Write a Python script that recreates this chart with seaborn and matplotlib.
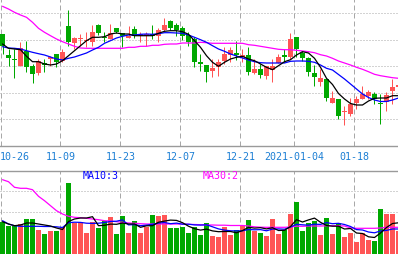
import numpy as np
import matplotlib
matplotlib.use("Agg")
import matplotlib.pyplot as plt
import seaborn as sns

# ---------------- data ----------------
tick_idx = [0, 10, 20, 30, 40, 49, 59]
tick_labels = ["10-26", "11-09", "11-23", "12-07", "12-21", "2021-01-04", "01-18"]

open_ = [11.5, 9.4, 9.0, 8.33, 9.83, 8.33, 7.6, 8.6, 9.05, 9.5,
         8.83, 12.33, 10.63, 11.03, 10.83, 10.73, 12.4, 11.17, 11.0, 12.1,
         11.6, 11.07, 12.0, 11.33, 11.33, 11.5, 11.33, 11.9, 12.77, 12.43,
         12.07, 11.4, 11.0, 8.67, 8.4, 7.83, 8.23, 8.83, 9.4, 9.6,
         9.17, 9.4, 7.6, 8.0, 7.27, 7.93, 8.6, 9.4, 9.17, 11.23,
         9.57, 9.07, 7.6, 6.73, 7.0, 4.6, 5.0, 3.67, 3.5, 4.6,
         5.0, 5.27, 5.5, 4.6, 4.67, 5.83, 6.17]
high = [11.55, 10.0, 10.0, 10.73, 10.83, 8.5, 9.0, 9.0, 9.33, 9.5,
        10.0, 13.9, 11.2, 11.5, 11.67, 12.4, 12.5, 11.73, 12.5, 12.1,
        11.6, 12.27, 12.33, 11.67, 11.67, 12.4, 12.07, 13.1, 12.93, 12.57,
        12.27, 11.67, 11.17, 9.5, 8.4, 9.0, 9.0, 10.17, 10.17, 10.83,
        10.0, 10.17, 9.0, 8.5, 8.33, 9.0, 9.5, 10.0, 11.57, 11.23,
        9.83, 9.17, 8.4, 8.0, 7.1, 5.83, 5.0, 4.33, 5.07, 5.33,
        6.33, 5.9, 5.67, 5.5, 5.67, 7.0, 6.6]
low = [9.5, 8.3, 7.1, 8.33, 7.73, 6.6, 7.43, 7.75, 8.33, 8.23,
       8.67, 10.33, 10.0, 10.33, 10.23, 10.33, 11.4, 10.73, 11.0, 11.57,
       10.17, 11.07, 11.07, 10.67, 10.33, 11.0, 10.67, 11.77, 11.93, 11.27,
       10.93, 10.33, 8.23, 7.83, 6.73, 7.17, 7.33, 8.5, 8.67, 8.9,
       8.67, 7.4, 7.5, 7.07, 7.0, 6.73, 8.6, 8.67, 9.0, 9.17,
       8.83, 7.33, 6.33, 6.33, 4.83, 4.6, 3.0, 2.43, 3.27, 4.0,
       5.0, 5.0, 4.5, 2.5, 3.83, 4.5, 6.0]
close = [10.3, 9.1, 8.95, 10.07, 8.23, 7.5, 8.83, 8.45, 9.17, 8.67,
         9.67, 10.73, 11.1, 11.07, 10.93, 11.73, 11.57, 11.07, 11.6, 11.73,
         11.27, 11.33, 11.27, 11.5, 11.5, 11.27, 11.9, 12.4, 12.1, 11.93,
         11.27, 10.67, 8.67, 8.5, 7.67, 8.07, 8.67, 9.5, 9.9, 9.45,
         9.4, 7.67, 8.0, 7.43, 8.33, 8.33, 9.17, 9.23, 11.0, 10.0,
         9.07, 7.67, 7.23, 7.1, 5.07, 5.1, 3.33, 3.77, 4.5, 5.0,
         5.5, 5.67, 5.0, 4.5, 5.4, 6.17, 6.4]
ma5 = [10.5, 10.07, 10.0, 9.93, 9.27, 8.73, 8.73, 8.5, 8.4, 8.5,
       8.83, 9.33, 9.83, 10.33, 10.83, 11.17, 11.17, 11.23, 11.5, 11.6,
       11.5, 11.5, 11.33, 11.33, 11.33, 11.33, 11.57, 11.77, 11.83, 11.83,
       11.73, 11.47, 10.83, 10.17, 9.33, 8.67, 8.27, 8.67, 9.0, 9.17,
       9.27, 9.0, 8.83, 8.5, 8.17, 7.93, 8.33, 8.73, 8.93, 9.4,
       9.73, 9.6, 9.07, 8.17, 7.07, 6.45, 5.55, 5.0, 4.55, 4.4,
       4.4, 4.8, 5.07, 5.1, 5.1, 5.33, 5.33]
ma10 = [10.23, 10.1, 10.07, 10.0, 9.83, 9.67, 9.53, 9.4, 9.2, 9.0,
        8.9, 9.07, 9.2, 9.4, 9.6, 9.9, 10.17, 10.57, 10.83, 11.1,
        11.27, 11.4, 11.4, 11.47, 11.5, 11.47, 11.53, 11.63, 11.63, 11.6,
        11.57, 11.4, 11.17, 10.93, 10.67, 10.33, 10.0, 9.77, 9.5, 9.3,
        9.1, 8.9, 8.73, 8.63, 8.6, 8.6, 8.6, 8.6, 8.77, 8.8,
        8.8, 8.77, 8.67, 8.4, 8.07, 7.9, 7.45, 7.0, 6.5, 6.0,
        5.5, 5.15, 4.9, 4.75, 4.75, 4.9, 5.1]
ma30 = [14.27, 14.0, 13.67, 13.4, 13.17, 12.67, 12.07, 11.67, 11.33, 11.0,
        10.73, 10.5, 10.27, 10.1, 10.07, 10.07, 10.07, 10.07, 10.07, 10.07,
        10.07, 10.17, 10.17, 10.27, 10.27, 10.37, 10.37, 10.47, 10.5, 10.5,
        10.6, 10.6, 10.6, 10.67, 10.63, 10.57, 10.57, 10.57, 10.57, 10.57,
        10.57, 10.43, 10.37, 10.27, 10.17, 10.07, 9.97, 9.93, 9.93, 9.87,
        9.8, 9.73, 9.63, 9.43, 9.3, 9.07, 8.8, 8.6, 8.4, 8.17,
        7.97, 7.73, 7.47, 7.33, 7.23, 7.13, 7.07]

volume = [3.17, 2.77, 2.77, 3.0, 3.5, 3.5, 2.43, 2.0, 2.33, 2.33,
          2.67, 7.1, 3.1, 3.17, 2.1, 3.17, 2.6, 3.33, 3.73, 2.0,
          3.83, 2.1, 3.33, 2.1, 2.73, 3.9, 3.83, 3.9, 2.6, 2.57,
          2.73, 2.1, 2.67, 1.87, 3.07, 1.83, 1.73, 2.73, 1.9, 2.43,
          2.9, 3.4, 2.33, 2.1, 1.83, 3.5, 2.0, 2.43, 4.0, 5.23,
          2.33, 3.07, 3.33, 1.9, 3.6, 2.0, 3.07, 1.73, 2.1, 1.23,
          2.1, 1.43, 1.33, 4.5, 4.0, 4.0, 2.33]
vma5 = [3.23, 3.0, 2.83, 2.9, 3.1, 3.1, 3.0, 2.9, 2.8, 2.6,
        2.45, 3.25, 3.5, 3.6, 3.6, 3.73, 2.83, 2.87, 2.99, 2.97,
        3.1, 3.0, 3.0, 2.67, 2.82, 2.83, 3.18, 3.29, 3.39, 3.36,
        3.13, 2.78, 2.53, 2.39, 2.49, 2.31, 2.23, 2.25, 2.25, 2.12,
        2.34, 2.67, 2.59, 2.63, 2.51, 2.63, 2.35, 2.37, 2.75, 3.43,
        3.2, 3.41, 3.59, 3.17, 2.85, 2.78, 2.78, 2.5, 2.55, 2.1,
        2.05, 1.72, 1.65, 2.1, 2.65, 3.05, 3.12]
vma10 = [3.33, 3.0, 2.83, 2.77, 2.77, 2.77, 2.77, 2.75, 2.75, 2.72,
         2.65, 3.13, 3.18, 3.16, 3.08, 3.06, 3.08, 3.15, 3.25, 3.28,
         3.41, 2.91, 2.94, 2.83, 2.89, 2.97, 3.09, 3.15, 3.03, 3.09,
         2.98, 2.98, 2.91, 2.89, 2.92, 2.72, 2.51, 2.39, 2.32, 2.31,
         2.32, 2.45, 2.42, 2.44, 2.32, 2.49, 2.51, 2.48, 2.69, 2.97,
         2.92, 2.88, 2.98, 2.96, 3.14, 3.03, 3.07, 2.95, 2.75, 2.44,
         2.4, 2.2, 2.12, 2.3, 2.36, 2.5, 2.5]
vma30 = [7.43, 7.23, 6.67, 6.57, 6.57, 6.43, 5.77, 5.33, 4.83, 4.33,
         4.0, 3.77, 3.67, 3.63, 3.57, 3.5, 3.43, 3.33, 3.3, 3.23,
         3.17, 3.1, 3.07, 3.03, 3.0, 3.0, 3.0, 3.0, 3.0, 3.0,
         3.0, 2.97, 2.95, 2.93, 2.9, 2.9, 2.88, 2.88, 2.85, 2.85,
         2.85, 2.8, 2.72, 2.68, 2.67, 2.67, 2.67, 2.67, 2.7, 2.78,
         2.77, 2.8, 2.8, 2.8, 2.82, 2.83, 2.83, 2.8, 2.6, 2.57,
         2.57, 2.57, 2.57, 2.6, 2.67, 2.67, 2.67]

# ---------------- style ----------------
sns.set_style("white")
plt.rcParams["font.family"] = ["DejaVu Sans Mono"]

RED = "#FF5555"
GREEN = "#00A800"
GRID = "#A8A8A8"
SPINE = "#9A9A9A"
PX = 0.72  # one pixel in points at dpi 100
LW = 0.9

W, H = 398, 255
fig = plt.figure(figsize=(W / 100, H / 100), dpi=100)
ax = fig.add_axes([0, 1 - 147 / H, 1, 147 / H])
axv = fig.add_axes([0, 0, 1, (H - 172) / H])

n = len(close)
k = np.arange(n)
o = np.array(open_); c = np.array(close)
up = c >= o
cols = [RED if u else GREEN for u in up]

xlim = (-2.5 / 6, (W - 2.5) / 6)
grid_x = [i - 2.0 / 6 for i in tick_idx]

for a in (ax, axv):
    a.set_xlim(*xlim)
    a.set_xticks([])
    a.set_yticks([])
    for s in a.spines.values():
        s.set_visible(False)
    for gx in grid_x:
        a.axvline(gx, color=GRID, lw=PX, ls=(0, (5, 3)), zorder=0)

# main panel
ax.set_ylim(0.3, 15.0)
for gy in [3.0, 5.65, 8.3, 10.95, 13.6]:
    ax.axhline(gy, color=GRID, lw=PX, ls=(0, (1, 2)), zorder=0)
ax.vlines(k, low, high, colors=cols, lw=PX, zorder=2)
bottom = np.minimum(o, c)
height = np.maximum(np.abs(c - o), 0.1)
ax.bar(k, height, bottom=bottom, width=5 / 6, color=cols, linewidth=0, zorder=3)
sns.lineplot(x=k, y=ma30, color="#FF00FF", lw=LW, ax=ax, zorder=4, legend=False)
sns.lineplot(x=k, y=ma10, color="#0000FF", lw=LW, ax=ax, zorder=5, legend=False)
sns.lineplot(x=k, y=ma5, color="black", lw=LW, ax=ax, zorder=6, legend=False)
ax.spines["bottom"].set_visible(True)
ax.spines["bottom"].set_color(SPINE)
ax.spines["bottom"].set_linewidth(1.0)
ax.set_xlabel(""); ax.set_ylabel("")

# volume panel
axv.set_ylim(0, 8.3)
for gy in [4.2, 6.3]:
    axv.axhline(gy, color=GRID, lw=PX, ls=(0, (1, 2)), zorder=0)
axv.bar(k, volume, width=5 / 6, color=cols, linewidth=0, zorder=2)
sns.lineplot(x=k, y=vma30, color="#FF00FF", lw=LW, ax=axv, zorder=4, legend=False)
sns.lineplot(x=k, y=vma10, color="#0000FF", lw=LW, ax=axv, zorder=5, legend=False)
sns.lineplot(x=k, y=vma5, color="black", lw=LW, ax=axv, zorder=6, legend=False)
axv.spines["top"].set_visible(True)
axv.spines["top"].set_color(SPINE)
axv.spines["top"].set_linewidth(1.0)
axv.set_xlabel(""); axv.set_ylabel("")

# date labels
for i, lab in zip(tick_idx, tick_labels):
    px = 6 * i + 0.5
    ha = "center"
    if px < 20:
        px, ha = 0, "left"
    fig.text(px / W, 1 - 157 / H, lab, ha=ha, va="center", fontsize=7.2, color="#1C7FD4")

fig.text(83 / W, 1 - 176.5 / H, "MA10:3", ha="left", va="center", fontsize=7.2, color="#0000FF")
fig.text(203 / W, 1 - 176.5 / H, "MA30:2", ha="left", va="center", fontsize=7.2, color="#FF00FF")

fig.savefig("out.png", dpi=100)
